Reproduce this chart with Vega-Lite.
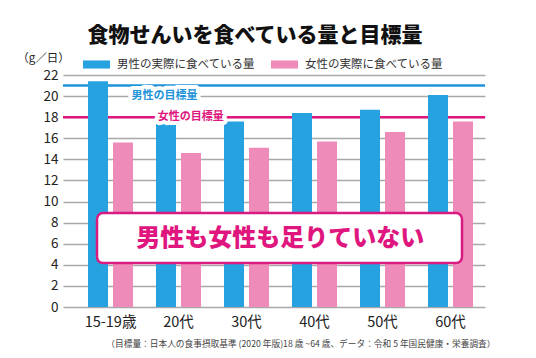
{
  "$schema": "https://vega.github.io/schema/vega-lite/v6.json",
  "width": 422,
  "height": 232,
  "autosize": {"type": "none"},
  "padding": {"left": 63, "top": 75, "right": 51, "bottom": 51},
  "background": "white",
  "config": {
    "font": "Noto Sans CJK JP",
    "view": {"stroke": null},
    "axisY": {
      "tickCount": 11,
      "labelOverlap": false,
      "grid": true,
      "gridColor": "#A8A8A8",
      "gridWidth": 1.5,
      "domain": false,
      "ticks": false,
      "labelFontSize": 13.5,
      "labelColor": "#222222",
      "labelPadding": 5
    }
  },
  "title": {
    "text": "食物せんいを食べている量と目標量",
    "fontSize": 21,
    "fontWeight": 900,
    "color": "#111111",
    "anchor": "middle",
    "frame": "group",
    "dx": -19,
    "offset": 5
  },
  "resolve": {"scale": {"x": "independent"}},
  "layer": [
    {
      "data": {"values": [{}]},
      "mark": {"type": "rule", "color": "#1D93D9", "strokeWidth": 2.5},
      "encoding": {"y": {"datum": 21, "type": "quantitative", "scale": {"domain": [0, 22], "nice": false}}}
    },
    {
      "data": {"values": [{}]},
      "mark": {"type": "rule", "color": "#E0157E", "strokeWidth": 2.5},
      "encoding": {"y": {"datum": 18, "type": "quantitative", "scale": {"domain": [0, 22], "nice": false}}}
    },
    {
      "data": {
        "values": [
          {"age": "15-19歳", "series": "男性の実際に食べている量", "g": 21.4},
          {"age": "15-19歳", "series": "女性の実際に食べている量", "g": 15.6},
          {"age": "20代", "series": "男性の実際に食べている量", "g": 17.4},
          {"age": "20代", "series": "女性の実際に食べている量", "g": 14.6},
          {"age": "30代", "series": "男性の実際に食べている量", "g": 17.6},
          {"age": "30代", "series": "女性の実際に食べている量", "g": 15.1},
          {"age": "40代", "series": "男性の実際に食べている量", "g": 18.4},
          {"age": "40代", "series": "女性の実際に食べている量", "g": 15.7},
          {"age": "50代", "series": "男性の実際に食べている量", "g": 18.7},
          {"age": "50代", "series": "女性の実際に食べている量", "g": 16.6},
          {"age": "60代", "series": "男性の実際に食べている量", "g": 20.1},
          {"age": "60代", "series": "女性の実際に食べている量", "g": 17.6}
        ]
      },
      "mark": {"type": "bar"},
      "encoding": {
        "x": {
          "field": "age",
          "type": "nominal",
          "sort": null,
          "scale": {"paddingInner": 0.338, "paddingOuter": 0.272, "align": 0.676},
          "axis": {
            "labelAngle": 0,
            "labelFontSize": 14.5,
            "labelColor": "#222222",
            "labelPadding": 8,
            "ticks": false,
            "domain": false,
            "title": "（目標量：日本人の食事摂取基準 (2020 年版)18 歳 ~64 歳、データ：令和 5 年国民健康・栄養調査）",
            "titleFontSize": 8.7,
            "titleFontWeight": "normal",
            "titleColor": "#444444",
            "titleX": 432,
            "titleY": 36,
            "titleAlign": "right",
            "titleBaseline": "middle"
          }
        },
        "xOffset": {
          "field": "series",
          "type": "nominal",
          "sort": ["男性の実際に食べている量", "女性の実際に食べている量"],
          "scale": {"paddingInner": 0.2, "paddingOuter": 0}
        },
        "y": {
          "field": "g",
          "type": "quantitative",
          "scale": {"domain": [0, 22], "nice": false},
          "axis": {
            "title": "（g／日）",
            "titleAngle": 0,
            "titleX": -20,
            "titleY": -17,
            "titleAlign": "center",
            "titleBaseline": "middle",
            "titleFontSize": 11.5,
            "titleFontWeight": "normal",
            "titleColor": "#222222"
          }
        },
        "color": {
          "field": "series",
          "type": "nominal",
          "sort": ["男性の実際に食べている量", "女性の実際に食べている量"],
          "scale": {"range": ["#27A2E0", "#EE8BB8"]},
          "legend": {
            "orient": "none",
            "legendX": 20,
            "legendY": -24,
            "direction": "horizontal",
            "title": null,
            "symbolType": "M-1,-0.3H1V0.3H-1Z",
            "symbolSize": 729,
            "symbolStrokeWidth": 0,
            "symbolOpacity": 1,
            "labelFontSize": 11.5,
            "labelColor": "#333333",
            "labelOffset": 7,
            "columnPadding": 16
          }
        }
      }
    },
    {
      "data": {"values": [{}]},
      "layer": [
        {
          "mark": {"type": "rect", "fill": "white", "stroke": "#D81B80", "strokeWidth": 2.5, "cornerRadius": 6},
          "encoding": {
            "x": {"datum": 8.06, "type": "quantitative", "scale": {"domain": [0, 100]}, "axis": null},
            "x2": {"datum": 94.55},
            "y": {"datum": 4.17, "type": "quantitative", "scale": {"domain": [0, 22], "nice": false}},
            "y2": {"datum": 8.91}
          }
        },
        {
          "mark": {"type": "text", "text": "男性も女性も足りていない", "fontSize": 24, "fontWeight": 900, "color": "#E0167F", "align": "center", "baseline": "middle"},
          "encoding": {
            "x": {"datum": 51.5, "type": "quantitative", "scale": {"domain": [0, 100]}, "axis": null},
            "y": {"datum": 6.45, "type": "quantitative", "scale": {"domain": [0, 22], "nice": false}}
          }
        },
        {
          "mark": {"type": "text", "text": "男性の目標量", "fontSize": 11, "fontWeight": "bold", "fill": "white", "stroke": "white", "strokeWidth": 8, "strokeJoin": "round", "align": "center", "baseline": "middle"},
          "encoding": {
            "x": {"datum": 24.05, "type": "quantitative", "scale": {"domain": [0, 100]}, "axis": null},
            "y": {"datum": 20, "type": "quantitative", "scale": {"domain": [0, 22], "nice": false}}
          }
        },
        {
          "mark": {"type": "text", "text": "女性の目標量", "fontSize": 11, "fontWeight": "bold", "fill": "white", "stroke": "white", "strokeWidth": 8, "strokeJoin": "round", "align": "center", "baseline": "middle"},
          "encoding": {
            "x": {"datum": 30.3, "type": "quantitative", "scale": {"domain": [0, 100]}, "axis": null},
            "y": {"datum": 18, "type": "quantitative", "scale": {"domain": [0, 22], "nice": false}}
          }
        },
        {
          "mark": {"type": "text", "text": "男性の目標量", "fontSize": 11, "fontWeight": "bold", "color": "#1D93D9", "align": "center", "baseline": "middle"},
          "encoding": {
            "x": {"datum": 24.05, "type": "quantitative", "scale": {"domain": [0, 100]}, "axis": null},
            "y": {"datum": 20, "type": "quantitative", "scale": {"domain": [0, 22], "nice": false}}
          }
        },
        {
          "mark": {"type": "text", "text": "女性の目標量", "fontSize": 11, "fontWeight": "bold", "color": "#E0157E", "align": "center", "baseline": "middle"},
          "encoding": {
            "x": {"datum": 30.3, "type": "quantitative", "scale": {"domain": [0, 100]}, "axis": null},
            "y": {"datum": 18, "type": "quantitative", "scale": {"domain": [0, 22], "nice": false}}
          }
        }
      ]
    }
  ]
}
